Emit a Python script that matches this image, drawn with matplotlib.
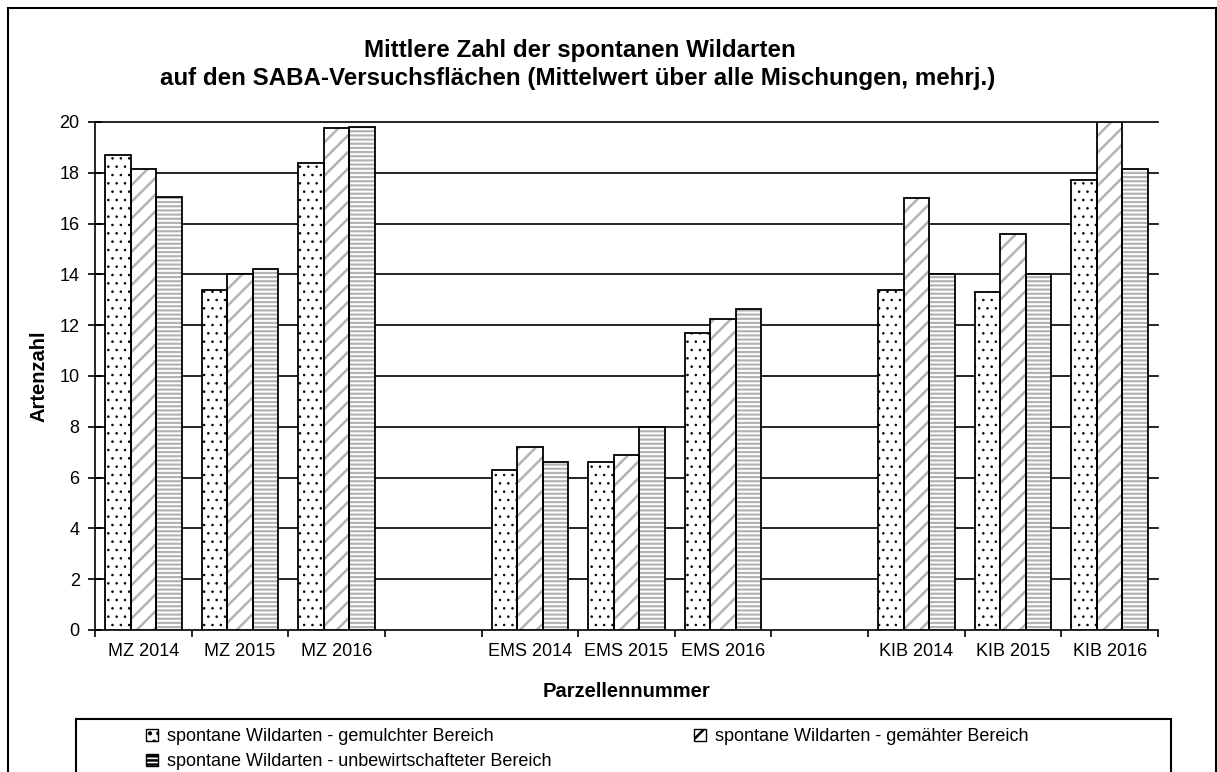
import numpy as np
import matplotlib
matplotlib.use('Agg')
import matplotlib.pyplot as plt
from matplotlib.patches import Rectangle, Patch

plt.rcParams['font.family'] = ['Liberation Sans', 'DejaVu Sans']
plt.rcParams['hatch.linewidth'] = 1.8

# data (empty strings = gaps between sites)
labels = ['MZ 2014', 'MZ 2015', 'MZ 2016', '',
          'EMS 2014', 'EMS 2015', 'EMS 2016', '',
          'KIB 2014', 'KIB 2015', 'KIB 2016']
gemulcht = [18.7, 13.4, 18.4, np.nan, 6.3, 6.6, 11.7, np.nan, 13.4, 13.3, 17.7]
gemaeht = [18.15, 14.0, 19.75, np.nan, 7.2, 6.9, 12.25, np.nan, 17.0, 15.6, 20.0]
unbewirt = [17.05, 14.2, 19.8, np.nan, 6.6, 8.0, 12.65, np.nan, 14.0, 14.0, 18.15]
series_names = ['spontane Wildarten - gemulchter Bereich',
                'spontane Wildarten - gemähter Bereich',
                'spontane Wildarten - unbewirtschafteter Bereich']

hatch_gray = '#b3b3b3'
styles = [('..', 'black', 0.6), ('//', hatch_gray, 1.8), ('----', hatch_gray, 1.6)]

fig = plt.figure(figsize=(12.17, 7.72), dpi=100)
ax = fig.add_axes([95/1217, 1-630/772, (1158-95)/1217, (630-122)/772])

x = np.arange(len(labels))
w = 0.264
for k, vals in enumerate([gemulcht, gemaeht, unbewirt]):
    h, c, hlw = styles[k]
    pos = x + (k-1)*w
    with plt.rc_context({'hatch.linewidth': hlw}):
        bars = ax.bar(pos, vals, w, color='white', edgecolor=c, hatch=h,
                      linewidth=0, zorder=3)
    for b in bars:
        if hasattr(b, 'set_hatch_linewidth'):
            b.set_hatch_linewidth(hlw)
    ax.bar(pos, vals, w, fill=False, edgecolor='black', linewidth=1.3, zorder=4)

for v in range(2, 21, 2):
    ax.axhline(v, color='black', linewidth=1.2, zorder=1, clip_on=False)

ax.set_xlim(-0.5, len(labels)-0.5)
ax.set_ylim(0, 20)
ax.set_yticks(range(0, 21, 2))
ax.set_xticks(x)
ax.set_xticklabels(labels, fontsize=13)
ax.set_xticks(np.arange(-0.5, len(labels), 1.0), minor=True)
ax.tick_params(axis='x', which='major', length=0, pad=9)
ax.tick_params(axis='x', which='minor', length=5, width=1.2, direction='out')
ax.tick_params(axis='y', length=10, width=1.2, direction='inout', labelsize=13, pad=6)
for s in ['top', 'right']:
    ax.spines[s].set_visible(False)
for s in ['left', 'bottom']:
    ax.spines[s].set_linewidth(1.2)

ax.set_ylabel('Artenzahl', fontsize=14.5, fontweight='bold', labelpad=8)
ax.set_xlabel('Parzellennummer', fontsize=14.5, fontweight='bold', labelpad=16)

fig.text(580/1217, 1-50/772, 'Mittlere Zahl der spontanen Wildarten',
         ha='center', va='center', fontsize=17.4, fontweight='bold')
fig.text(578/1217, 1-78/772,
         'auf den SABA-Versuchsflächen (Mittelwert über alle Mischungen, mehrj.)',
         ha='center', va='center', fontsize=17.4, fontweight='bold')

# outer frame and legend frame
fig.patches.append(Rectangle((8/1217, -0.05), (1215.5-8)/1217, 1.05-8/772,
                             transform=fig.transFigure, fill=False,
                             edgecolor='black', linewidth=1.5))
fig.patches.append(Rectangle((76/1217, -0.05), (1171-76)/1217, 1.05-719/772,
                             transform=fig.transFigure, fill=False,
                             edgecolor='black', linewidth=1.5))

handles = [Patch(facecolor='white', edgecolor='black', hatch=h, linewidth=1.0)
           for h, c, hlw in styles]
order = [0, 2, 1]
fig.legend([handles[i] for i in order], [series_names[i] for i in order],
           loc='upper left', bbox_to_anchor=(139/1217, 1-721/772), ncol=2,
           frameon=False, fontsize=13, handlelength=0.65, handleheight=0.65,
           handletextpad=0.5, columnspacing=7.9, labelspacing=0.45,
           borderaxespad=0)

fig.savefig('out.png', dpi=100)
